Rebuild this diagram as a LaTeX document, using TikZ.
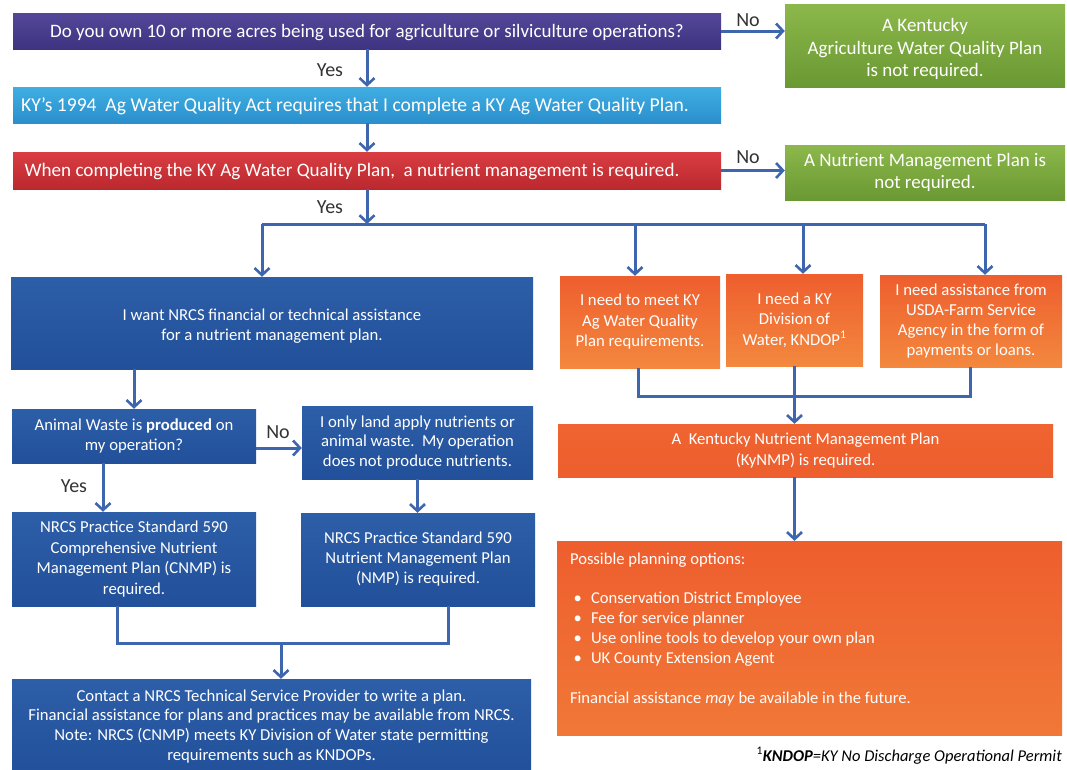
\documentclass[tikz,border=0pt]{standalone}
\usepackage{fontspec}
\setmainfont{Carlito}
\usetikzlibrary{arrows.meta,calc}
\definecolor{purpT}{HTML}{54479A}
\definecolor{purpB}{HTML}{3D3380}
\definecolor{cyanT}{HTML}{3FAEE2}
\definecolor{cyanB}{HTML}{2A8FCC}
\definecolor{redT}{HTML}{D93E42}
\definecolor{redB}{HTML}{BA282E}
\definecolor{grnT}{HTML}{8CB84B}
\definecolor{grnB}{HTML}{6A9832}
\definecolor{bluT}{HTML}{2D5EA8}
\definecolor{bluB}{HTML}{22509A}
\definecolor{orT}{HTML}{EE5E2E}
\definecolor{orB}{HTML}{F3883E}
\definecolor{orM}{HTML}{EA5226}
\definecolor{arrc}{HTML}{3D66AE}
\begin{document}
\begin{tikzpicture}[x=1pt,y=-1pt,
  box/.style={rectangle, draw=none, text=white, align=center, inner sep=2pt,
    font=\fontsize{16.7}{20}\selectfont},
  topbox/.style={box, font=\fontsize{19}{22.5}\selectfont},
  purplebox/.style={topbox, top color=purpT, bottom color=purpB},
  cyanbox/.style={topbox, top color=cyanT, bottom color=cyanB},
  redbox/.style={topbox, top color=redT, bottom color=redB},
  greenbox/.style={topbox, top color=grnT, bottom color=grnB},
  bluebox/.style={box, top color=bluT, bottom color=bluB},
  orangebox/.style={box, font=\fontsize{16.7}{20.5}\selectfont, top color=orT, bottom color=orB},
  conn/.style={draw=arrc, line width=3pt},
  arr/.style={conn, -{Straight Barb[length=7pt,width=15pt,line width=2.6pt]}},
  lbl/.style={text=black!80, font=\fontsize{20}{22}\selectfont, inner sep=0pt},
]
\useasboundingbox (0,0) rectangle (1067,769);
\clip (0,0) rectangle (1067,769);
\fill[white] (0,0) rectangle (1067,769);

% top row
\node[purplebox, minimum width=708pt, minimum height=36pt] (q1) at (367,31)
  {\rule{0pt}{16pt}Do you own 10 or more acres being used for agriculture or silviculture operations?};
\node[greenbox, minimum width=280pt, minimum height=83pt] (g1) at (925,45.5)
  {\rule{0pt}{21pt}A Kentucky\\Agriculture Water Quality Plan\\is not required.};
\node[cyanbox, minimum width=708pt, minimum height=36pt, font=\fontsize{19.6}{22}\selectfont] (ky) at (367,105)
  {\rule{0pt}{16pt}KY's 1994\ \ Ag Water Quality Act requires that I complete a KY Ag Water Quality Plan.\hspace*{24pt}};
\node[redbox, minimum width=708pt, minimum height=37pt, font=\fontsize{19.1}{22}\selectfont] (q2) at (367,170.5)
  {\rule{0pt}{16pt}When completing the KY Ag Water Quality Plan,\ \ a nutrient management is required.\hspace*{30pt}};
\node[greenbox, minimum width=280pt, minimum height=55pt] (g2) at (925,172.5)
  {A Nutrient Management Plan is\\not required.};

% left branch
\node[bluebox, minimum width=522pt, minimum height=92pt] (want) at (272,323)
  {\rule{0pt}{18pt}I want NRCS financial or technical assistance\\for a nutrient management plan.};
\node[bluebox, minimum width=244pt, minimum height=54pt] (aw) at (134,436)
  {Animal Waste is \textbf{produced} on\\my operation?};
\node[bluebox, minimum width=231pt, minimum height=73pt, font=\fontsize{16.7}{19.5}\selectfont] (land) at (417.5,442.5)
  {I only land apply nutrients or\\animal waste.\ \ My operation\\does not produce nutrients.};
\node[bluebox, minimum width=244pt, minimum height=94pt, font=\fontsize{16.7}{20.5}\selectfont] (cnmp) at (134,559)
  {NRCS Practice Standard 590\\Comprehensive Nutrient\\Management Plan (CNMP) is\\required.};
\node[bluebox, minimum width=234pt, minimum height=93pt] (nmp) at (418,559.5)
  {NRCS Practice Standard 590\\Nutrient Management Plan\\(NMP) is required.};
\node[bluebox, minimum width=519pt, minimum height=96pt, font=\fontsize{16.7}{19.7}\selectfont] (tsp) at (271.5,727)
  {Contact a NRCS Technical Service Provider to write a plan.\\
   Financial assistance for plans and practices may be available from NRCS.\\
   Note: NRCS (CNMP) meets KY Division of Water state permitting\\
   requirements such as KNDOPs.\rule[-4pt]{0pt}{4pt}};

% right branch
\node[orangebox, minimum width=160pt, minimum height=92pt] (o1) at (640,322)
  {I need to meet KY\\Ag Water Quality\\Plan requirements.};
\node[orangebox, minimum width=137pt, minimum height=92pt] (o2) at (794.5,320)
  {I need a KY\\Division of\\Water, KNDOP\textsuperscript{1}};
\node[orangebox, minimum width=182pt, minimum height=92pt, font=\fontsize{16.7}{20}\selectfont] (o3) at (971,321)
  {I need assistance from\\USDA-Farm Service\\Agency in the form of\\payments or loans.};
\node[orangebox, minimum width=495pt, minimum height=53pt, font=\fontsize{16.7}{21}\selectfont, top color=orT!85!orB, bottom color=orT] (kynmp) at (805.5,450.5)
  {A\ \ Kentucky Nutrient Management Plan\\(KyNMP) is required.};
\node[orangebox, minimum width=505pt, minimum height=194pt, top color=orT, middle color=orM, bottom color=orB!70!orM] (opts) at (809.5,638)
  {\begin{minipage}{479pt}\fontsize{16.6}{19.9}\selectfont
   Possible planning options:\\
   \mbox{}\\
   \hspace*{3.5pt}\makebox[17.5pt][l]{•}Conservation District Employee\\
   \hspace*{3.5pt}\makebox[17.5pt][l]{•}Fee for service planner\\
   \hspace*{3.5pt}\makebox[17.5pt][l]{•}Use online tools to develop your own plan\\
   \hspace*{3.5pt}\makebox[17.5pt][l]{•}UK County Extension Agent\\
   \mbox{}\\
   Financial assistance \textit{may} be available in the future.\rule[-20pt]{0pt}{20pt}
   \end{minipage}};
\node[anchor=base east, text=black, inner sep=0pt, font=\fontsize{16.5}{18}\selectfont] (foot) at (1062,761)
  {\textsuperscript{1}\textit{\textbf{KNDOP}=KY No Discharge Operational Permit}};

% labels
\node[lbl] (no1) at (748,20) {No};
\node[lbl] (yes1) at (330,70) {Yes};
\node[lbl] (no2) at (748,157) {No};
\node[lbl] (yes2) at (330,207) {Yes};
\node[lbl] (no3) at (278,432) {No};
\node[lbl] (yes3) at (74,486) {Yes};

% connectors top
\draw[arr] (q1.east) -- (q1.east -| g1.west);
\draw[arr] (q1.south) -- (ky.north);
\draw[arr] (ky.south) -- (q2.north);
\draw[arr] (q2.east) -- (q2.east -| g2.west);

% bus
\coordinate (busL) at (262,224);
\coordinate (bus1) at (635,224);
\coordinate (bus2) at (803,224);
\coordinate (busR) at (985,224);
\draw[conn] (busL) -- (busR);
\draw[arr] (q2.south) -- (q2.south |- busL);
\draw[arr] (busL) -- (busL |- want.north);
\draw[arr] (bus1) -- (bus1 |- o1.north);
\draw[arr] (bus2) -- (bus2 |- o2.north);
\draw[arr] (busR) -- (busR |- o3.north);

% left branch connectors
\draw[arr] (aw.north |- want.south) -- (aw.north);
\coordinate (awr) at (256,448);
\draw[arr] (awr) -- (awr -| land.west);
\coordinate (awd) at (103,463);
\draw[arr] (awd |- aw.south) -- (awd |- cnmp.north);
\draw[arr] (land.south) -- (land.south |- nmp.north);
\coordinate (m4) at (117,643);
\coordinate (m5) at (448,643);
\coordinate (m6) at (281,643);
\draw[conn] (m4 |- cnmp.south) -- (m4) -- (m5) -- (m5 |- nmp.south);
\draw[arr] (m6) -- (m6 |- tsp.north);

% right branch connectors
\coordinate (m1) at (638,396);
\coordinate (m3) at (970,396);
\draw[conn] (m1 |- o1.south) -- (m1) -- (m3) -- (m3 |- o3.south);
\draw[arr] (o2.south) -- (o2.south |- kynmp.north);
\draw[arr] (o2.south |- kynmp.south) -- (o2.south |- opts.north);
\end{tikzpicture}
\end{document}
